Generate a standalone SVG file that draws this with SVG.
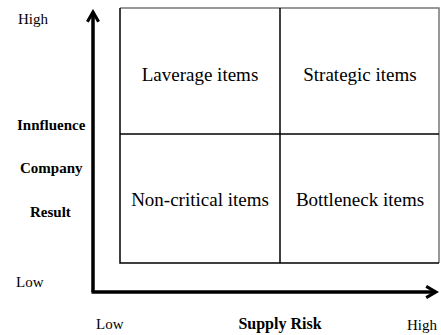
<svg xmlns="http://www.w3.org/2000/svg" width="441" height="335" viewBox="0 0 441 335">
<style>
.t{font-family:"Liberation Serif","Times New Roman",serif;fill:#000}
.q{font-size:19px;text-anchor:middle}
.s{font-size:15px}
.b{font-size:15px;font-weight:bold}
.g{fill:none;stroke:#000;stroke-width:1.5}
.gl{fill:none;stroke:#777;stroke-width:1.5}
.ax{fill:none;stroke:#000;stroke-width:3.5}
</style>
<defs>
<marker id="ah" viewBox="0 0 10 10" refX="8" refY="5" markerWidth="4" markerHeight="4" orient="auto" markerUnits="strokeWidth">
<path d="M1,1 L8,5 L1,9" fill="none" stroke="#000" stroke-width="2.2"/>
</marker>
</defs>
<g id="grid">
<path d="M120,8 L439,8 L439,263" class="gl"/>
<path d="M120,8 L120,263 L439,263" class="g"/>
<line x1="280" y1="8" x2="280" y2="263" class="g" stroke-width="2.5"/>
<line x1="120" y1="134" x2="439" y2="134" class="g"/>
</g>
<g id="q-laverage"><text x="200" y="81" class="t q">Laverage items</text></g>
<g id="q-strategic"><text x="360" y="81" class="t q">Strategic items</text></g>
<g id="q-noncritical"><text x="200" y="206" class="t q">Non-critical items</text></g>
<g id="q-bottleneck"><text x="360" y="206" class="t q">Bottleneck items</text></g>
<g id="connectors">
<path d="M93,292 L93,12" class="ax" marker-end="url(#ah)"/>
<path d="M91.5,292 L436,292" class="ax" marker-end="url(#ah)"/>
</g>
<g id="labels">
<text x="18" y="24" class="t s">High</text>
<text x="16" y="287" class="t s">Low</text>
<text x="96" y="329" class="t s">Low</text>
<text x="407" y="330" class="t s">High</text>
<text x="280" y="329" class="t b" style="font-size:16px" text-anchor="middle">Supply Risk</text>
<text x="17" y="130" class="t b">Innfluence</text>
<text x="20" y="173" class="t b">Company</text>
<text x="30" y="217" class="t b">Result</text>
</g>
</svg>
